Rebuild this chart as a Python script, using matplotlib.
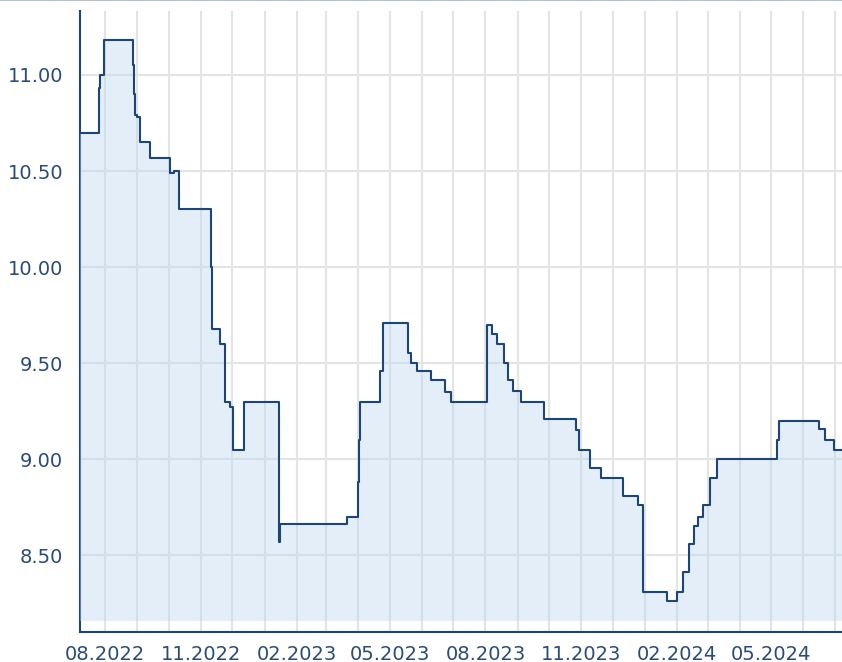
import numpy as np
import pandas as pd
import matplotlib
matplotlib.use("Agg")
import matplotlib.pyplot as plt
import matplotlib.dates as mdates
from matplotlib.lines import Line2D

# --- data (step changes, value holds until next date) ---
change_dates = [
    "2022-07-08", "2022-07-26", "2022-07-27", "2022-07-31",
    "2022-08-28", "2022-08-29", "2022-08-30", "2022-09-01", "2022-09-04",
    "2022-09-13", "2022-10-02", "2022-10-06", "2022-10-11",
    "2022-11-11", "2022-11-12", "2022-11-19", "2022-11-24", "2022-11-29",
    "2022-12-02", "2022-12-12",
    "2023-01-15", "2023-01-16", "2023-03-21", "2023-04-01", "2023-04-02",
    "2023-04-03", "2023-04-22", "2023-04-25",
    "2023-05-19", "2023-05-22", "2023-05-27", "2023-06-10", "2023-06-23",
    "2023-06-29", "2023-07-03",
    "2023-08-02", "2023-08-07", "2023-08-12", "2023-08-19", "2023-08-23",
    "2023-08-27", "2023-09-04", "2023-09-26", "2023-10-27", "2023-10-30",
    "2023-11-09", "2023-11-20", "2023-12-11", "2023-12-25", "2023-12-30",
    "2024-01-22", "2024-02-01", "2024-02-06", "2024-02-12", "2024-02-17",
    "2024-02-21", "2024-02-26", "2024-03-03", "2024-03-10",
    "2024-05-07", "2024-05-09", "2024-06-16", "2024-06-22", "2024-06-30",
    "2024-07-08",
]
rates = [
    10.70, 10.93, 11.00, 11.18,
    11.05, 10.90, 10.79, 10.78, 10.65,
    10.57, 10.49, 10.50, 10.30,
    10.00, 9.68, 9.60, 9.30, 9.27,
    9.05, 9.30,
    8.57, 8.66, 8.70, 8.88, 9.10,
    9.30, 9.46, 9.71,
    9.55, 9.50, 9.46, 9.41, 9.35,
    9.30, 9.30,
    9.70, 9.65, 9.60, 9.50, 9.41,
    9.355, 9.30, 9.21, 9.15, 9.05,
    8.955, 8.90, 8.81, 8.76, 8.31,
    8.26, 8.31, 8.41, 8.56, 8.65,
    8.70, 8.76, 8.90, 9.00,
    9.10, 9.20, 9.155, 9.10, 9.05,
    9.05,
]
y_ticks = [8.50, 9.00, 9.50, 10.00, 10.50, 11.00]

dates = pd.to_datetime(change_dates)
vals = np.array(rates)

navy = "#1d4575"
label_col = "#2a4b78"

fig = plt.figure(figsize=(8.42, 6.62), dpi=100)
ax = fig.add_axes([80 / 842, 30 / 662, 762 / 842, 621 / 662])

ax.fill_between(dates, vals, 8.157, step="post", color="#b9d6f0", alpha=0.4,
                linewidth=0, zorder=1)
ax.step(dates, vals, where="post", color=navy, linewidth=1.5, zorder=3)

ax.set_xlim(pd.Timestamp("2022-07-08"), pd.Timestamp("2024-07-08"))
ax.set_ylim(8.10, 11.333)

ax.set_yticks(y_ticks)
ax.set_yticklabels([f"{v:.2f}" for v in y_ticks])
ax.xaxis.set_major_locator(mdates.MonthLocator(bymonth=[2, 5, 8, 11]))
ax.xaxis.set_minor_locator(mdates.MonthLocator())
ax.xaxis.set_major_formatter(mdates.DateFormatter("%m.%Y"))

ax.set_axisbelow(True)
ax.grid(True, which="both", axis="x", color="#e4e4e4", linewidth=1.5)
ax.grid(True, which="major", axis="y", color="#e4e4e4", linewidth=1.5)

ax.tick_params(axis="both", which="both", length=0, colors=label_col, labelsize=14)
ax.tick_params(axis="y", pad=12)
ax.tick_params(axis="x", pad=9)

for side in ["top", "right"]:
    ax.spines[side].set_visible(False)
for side in ["left", "bottom"]:
    ax.spines[side].set_color(navy)
    ax.spines[side].set_linewidth(1.5)
ax.spines["left"].set_zorder(0.8)

# thin border line at the very top of the image
fig.add_artist(Line2D([0, 1], [0.9995, 0.9995], transform=fig.transFigure,
                      color="#9fb6cf", linewidth=1.2))

fig.savefig("out.png", dpi=100)
